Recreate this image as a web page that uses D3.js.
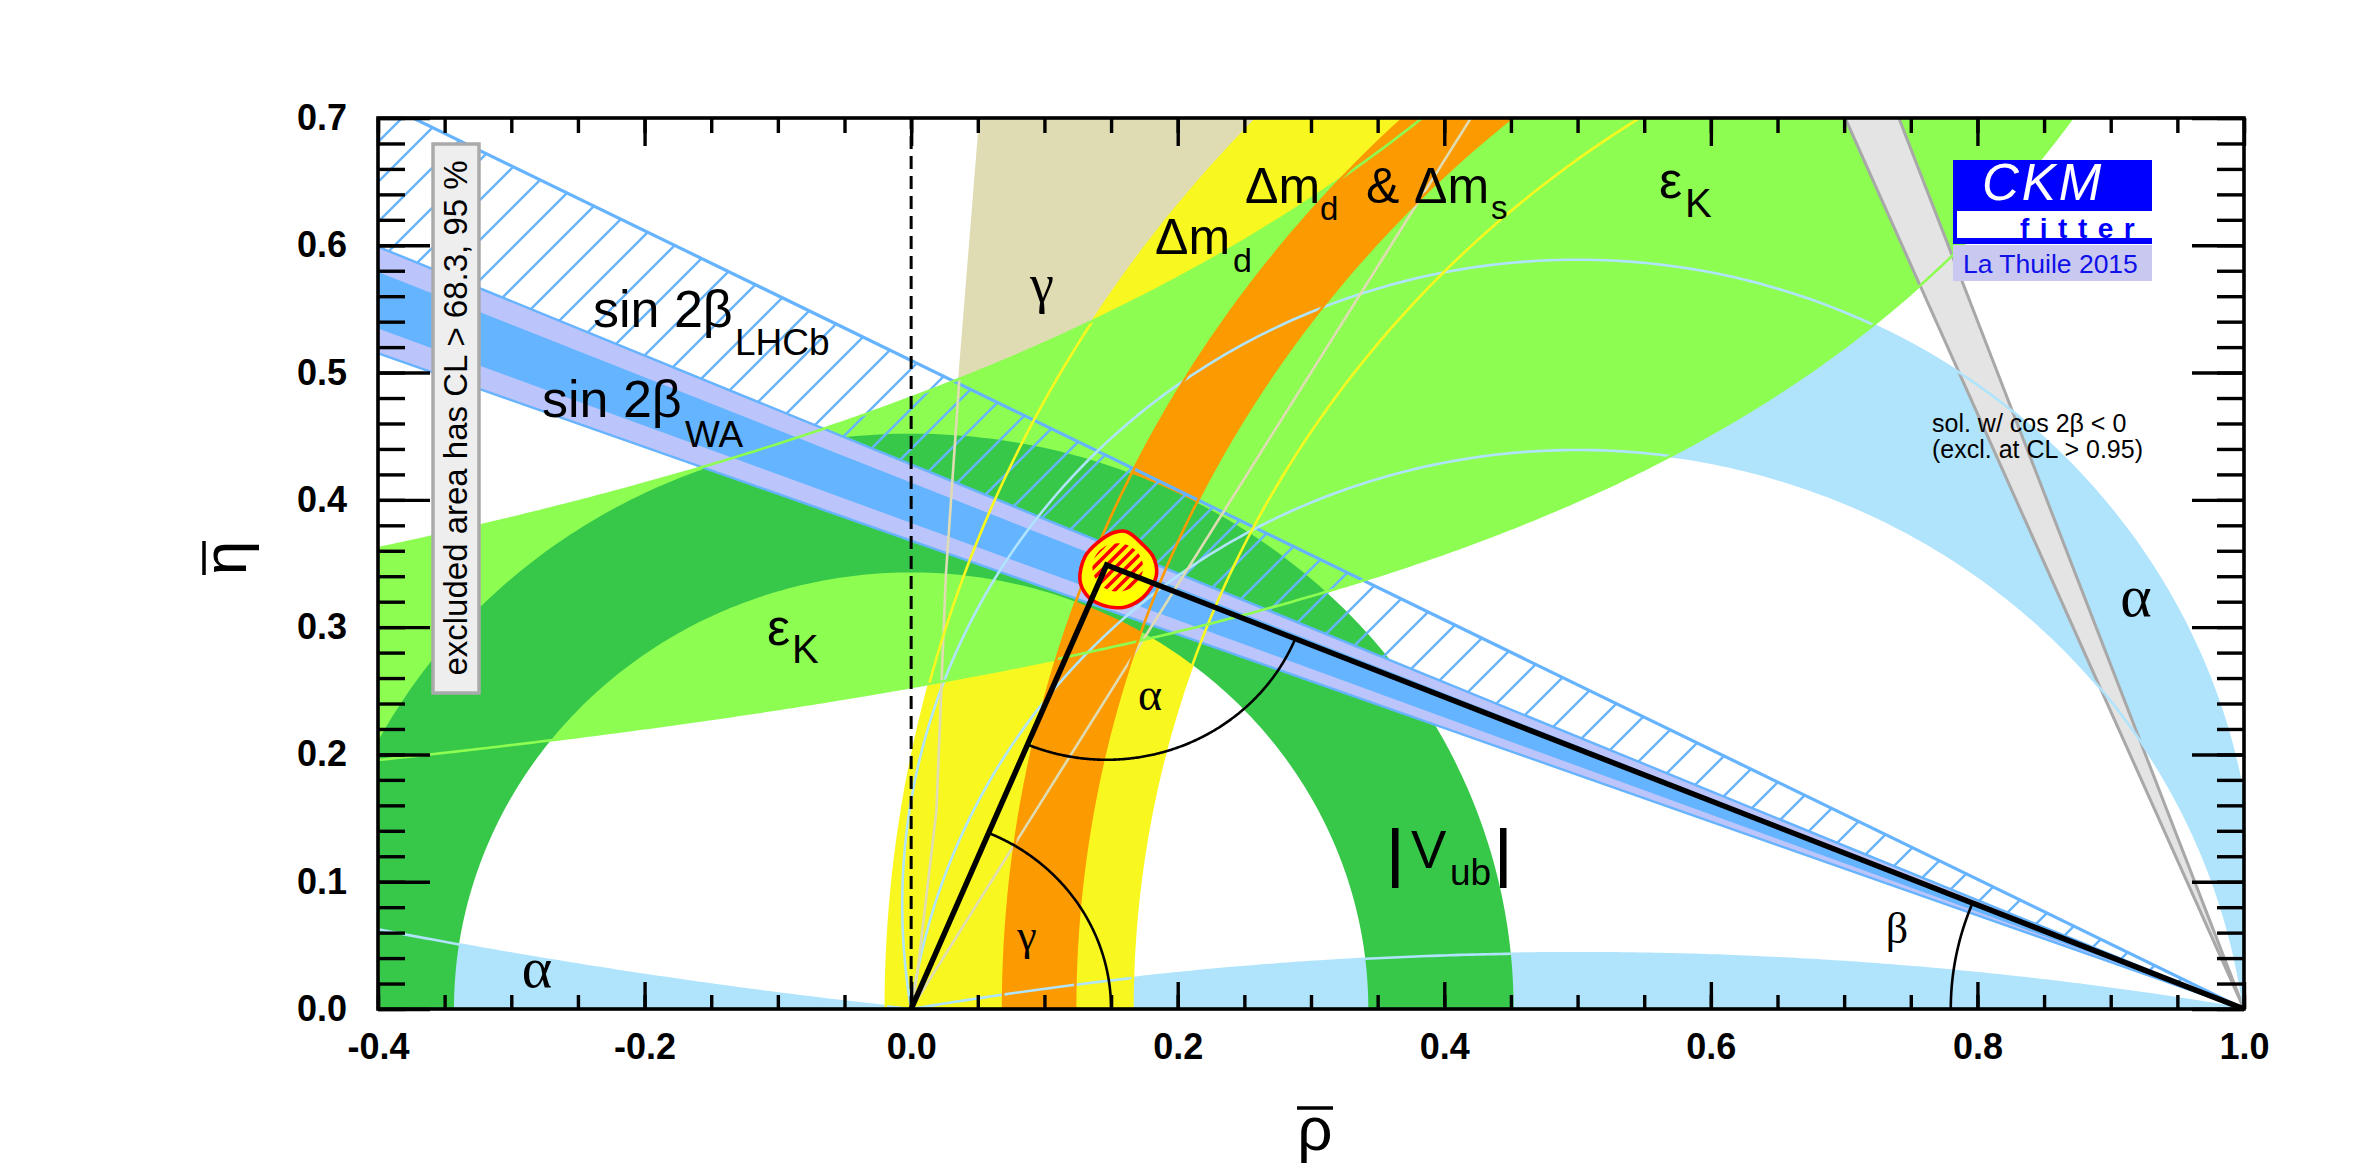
<!DOCTYPE html>
<html><head><meta charset="utf-8">
<script src="https://cdn.jsdelivr.net/npm/d3@7"></script>
<style>body{margin:0;background:#fff}svg{display:block}</style>
</head><body><svg id="c" width="2363" height="1175"></svg>
<script>
// ---------------- data ----------------
const rhoTicks = [-0.4, -0.2, 0.0, 0.2, 0.4, 0.6, 0.8, 1.0];
const etaTicks = [0.0, 0.1, 0.2, 0.3, 0.4, 0.5, 0.6, 0.7];
// |Vub| : annulus centred on (0,0)
const vubRadii = [0.343, 0.452];
// Δm_d : annulus centred on (1,0)
const dmdRadii = [0.834, 1.019];
// Δm_d & Δm_s : annulus
const dmsCentre = [1.035, 0.0];
const dmsRadii = [0.912, 0.966];
// ε_K hyperbolae η = k / (ρ0 − ρ)  ->  [k, ρ0]
const epsKLower = [0.345, 1.364];
const epsKUpper = [0.587, 1.222];
// sin 2β bands: β (deg) of lines through (1,0)
const sin2bWA95 = [20.2, 23.16];
const sin2bWA68 = [20.9, 22.47];
const sin2bLHCb = [20.2, 27.0];
// cos 2β < 0 solution wedge (deg)
const cos2bNeg = [66.85, 69.7];
// α : circles through (0,0),(1,0) with centre (0.5, c)
const alphaOuterC = 0.082;
const alphaInnerC = -0.065;
const alphaLowC = -2.83;   // sliver 0<ρ<1
const alphaLeftC = 4.5;    // sliver ρ<0
// γ wedge edges (points)
const gammaLeft = [[0, 0], [0.004, 0.023], [0.019, 0.156], [0.026, 0.34], [0.036, 0.492], [0.052, 0.7], [0.054, 0.73]];
const gammaRight = [[0, 0], [0.438, 0.73]];
// global fit
const apex = [0.1466, 0.3488];
const fitOutline = [[0.1266, 0.337], [0.1304, 0.3553], [0.1392, 0.3658], [0.1516, 0.3742], [0.1617, 0.375], [0.1741, 0.3645],
  [0.1816, 0.3553], [0.1842, 0.3423], [0.1804, 0.3318], [0.1716, 0.3213], [0.1591, 0.3155], [0.1416, 0.3181], [0.1317, 0.3252]];
const fitCore = [0.155, 0.347, 0.019, 0.019];
// angle arcs radii
const gammaArcR = 0.15, alphaArcR = 0.153, betaArcR = 0.22;

// ---------------- setup ----------------
const svg = d3.select('#c');
const x = d3.scaleLinear([-0.4, 1.0], [378, 2244]);
const y = d3.scaleLinear([0, 0.7], [1009, 118]);
const line = d3.line().x(d => x(d[0])).y(d => y(d[1]));
const SANS = "'Liberation Sans', Arial, Helvetica, sans-serif";
const SERIF = "'Liberation Serif', 'Times New Roman', serif";

const C = {
  alpha: '#b0e4fc', gamma: '#dfdcb4', dmd: '#f8f820', eps: '#8dfd52', dms: '#fc9a02',
  vub: '#37c84a', wa95: '#bcc4fc', wa68: '#64b4ff', hatch: '#66b3ff', grey: '#e4e4e4', greyEdge: '#a8a8a8'
};

const defs = svg.append('defs');
defs.append('clipPath').attr('id', 'plot').append('rect')
  .attr('x', x(-0.4)).attr('y', y(0.7)).attr('width', x(1.0) - x(-0.4)).attr('height', y(0) - y(0.7));
const pat = defs.append('pattern').attr('id', 'hatch').attr('patternUnits', 'userSpaceOnUse')
  .attr('width', 40).attr('height', 40);
pat.append('path').attr('d', 'M-5,5 L5,-5 M0,40 L40,0 M35,45 L45,35')
  .attr('stroke', C.hatch).attr('stroke-width', 2.4);
const rpat = defs.append('pattern').attr('id', 'rhatch').attr('patternUnits', 'userSpaceOnUse')
  .attr('width', 11).attr('height', 11);
rpat.append('path').attr('d', 'M-3,3 L3,-3 M0,11 L11,0 M8,14 L14,8')
  .attr('stroke', '#ff0000').attr('stroke-width', 3.6);
const core = fitCore;
defs.append('clipPath').attr('id', 'core').append('ellipse')
  .attr('cx', x(core[0])).attr('cy', y(core[1]))
  .attr('rx', x(core[0] + core[2]) - x(core[0])).attr('ry', y(core[1]) - y(core[1] + core[3]));

const g = svg.append('g').attr('clip-path', 'url(#plot)');

// helpers
const arcPts = (cx, cy, r, a0, a1, n = 240) =>
  d3.range(n + 1).map(i => { const a = a0 + (a1 - a0) * i / n; return [cx + r * Math.cos(a), cy + r * Math.sin(a)]; });
const circ = (c) => { const r = Math.sqrt(0.25 + c * c); return { cx: 0.5, cy: c, r }; };
const upperArc = (c) => { // arc from (1,0) over the top to (0,0)
  const k = circ(c);
  const a1 = Math.atan2(-c, 0.5), a0 = Math.atan2(-c, -0.5);
  return arcPts(k.cx, k.cy, k.r, a1, a0 < a1 ? a0 + 2 * Math.PI : a0);
};
const hyper = (p, r0, r1) => d3.range(r0, r1 + 1e-9, 0.004).map(r => [r, p[0] / (p[1] - r)]);
const rhoAtEta = (p, e) => p[1] - p[0] / e;
const ray = (deg) => { const t = Math.tan(deg * Math.PI / 180); return [[1, 0], [-0.5, 1.5 * t]]; };
const band = (b) => { const a = ray(b[0]), c = ray(b[1]); return [a[0], c[1], a[1]]; };
const fill = (pts, col) => g.append('path').attr('d', line(pts) + 'Z').attr('fill', col).attr('stroke', 'none');
const stroke = (pts, col, w, parent) => (parent || g).append('path').attr('d', line(pts)).attr('fill', 'none')
  .attr('stroke', col).attr('stroke-width', w).attr('stroke-linejoin', 'round');

// ---------------- α ----------------
const aOuter = upperArc(alphaOuterC), aInner = upperArc(alphaInnerC);
fill(aOuter.concat(aInner.slice().reverse()), C.alpha);
const aLow = upperArc(alphaLowC);
fill(aLow, C.alpha);
const lc = circ(alphaLeftC);
const aLeft = d3.range(0, -0.46, -0.005).map(r => [r, lc.cy - Math.sqrt(lc.r * lc.r - (r - 0.5) ** 2)]);
fill(aLeft.concat([[-0.46, 0], [0, 0]]), C.alpha);

// ---------------- γ ----------------
fill(gammaLeft.concat(gammaRight.slice().reverse()), C.gamma);

// ---------------- Δm_d ----------------
fill(arcPts(1, 0, dmdRadii[1], 0, Math.PI).concat(arcPts(1, 0, dmdRadii[0], Math.PI, 0)), C.dmd);

// ---------------- ε_K ----------------
const eLow = hyper(epsKLower, -0.45, rhoAtEta(epsKLower, 0.75));
const eUp = hyper(epsKUpper, -0.45, rhoAtEta(epsKUpper, 0.75));
fill(eLow.concat(eUp.slice().reverse()), C.eps);

// ---------------- Δm_d & Δm_s ----------------
fill(arcPts(dmsCentre[0], 0, dmsRadii[1], 0, Math.PI).concat(arcPts(dmsCentre[0], 0, dmsRadii[0], Math.PI, 0)), C.dms);

// ---------------- |Vub| ----------------
fill(arcPts(0, 0, vubRadii[1], 0, Math.PI).concat(arcPts(0, 0, vubRadii[0], Math.PI, 0)), C.vub);

// ---------------- sin2β LHCb (hatched) ----------------
g.append('path').attr('d', line(band(sin2bLHCb)) + 'Z').attr('fill', 'url(#hatch)');
// ---------------- sin2β WA ----------------
fill(band(sin2bWA95), C.wa95);
fill(band(sin2bWA68), C.wa68);
[sin2bWA95[0], sin2bWA95[1], sin2bLHCb[1]].forEach((b, i) => stroke(ray(b), C.hatch, i === 2 ? 3.2 : 2.4));

// ---------------- cos2β<0 wedge ----------------
const wedge = band(cos2bNeg);
fill(wedge, C.grey);
cos2bNeg.forEach(b => stroke(ray(b), C.greyEdge, 3));

// ---------------- contour lines ----------------
const lw = 2.6;
stroke(aOuter, C.alpha, lw); stroke(aInner, C.alpha, lw); stroke(aLow, C.alpha, lw); stroke(aLeft, C.alpha, lw);
stroke(gammaLeft, C.gamma, lw); stroke(gammaRight, C.gamma, lw);
dmdRadii.forEach(r => stroke(arcPts(1, 0, r, 0, Math.PI), C.dmd, lw));
stroke(eLow, C.eps, lw); stroke(eUp, C.eps, lw);
dmsRadii.forEach(r => stroke(arcPts(dmsCentre[0], 0, r, 0, Math.PI), C.dms, lw));

// ---------------- fit region ----------------
const closedCurve = d3.line().x(d => x(d[0])).y(d => y(d[1])).curve(d3.curveCatmullRomClosed);
g.append('path').attr('d', closedCurve(fitOutline)).attr('fill', '#ffff00').attr('stroke', 'none');
g.append('rect').attr('clip-path', 'url(#core)').attr('x', 1000).attr('y', 480).attr('width', 250).attr('height', 200)
  .attr('fill', 'url(#rhatch)');
g.append('path').attr('d', closedCurve(fitOutline)).attr('fill', 'none').attr('stroke', '#ff0000').attr('stroke-width', 3.6);

// ---------------- triangle & angles ----------------
stroke([[0, 0], apex, [1, 0]], '#000', 5.5).attr('stroke-linejoin', 'miter');
const angApex = Math.atan2(apex[1], apex[0]);
stroke(arcPts(0, 0, gammaArcR, 0, angApex), '#000', 2.6);
const toO = Math.atan2(-apex[1], -apex[0]), toOne = Math.atan2(-apex[1], 1 - apex[0]);
stroke(arcPts(apex[0], apex[1], alphaArcR, toO, toOne), '#000', 2.6);
const beta = Math.atan2(apex[1], 1 - apex[0]);
stroke(arcPts(1, 0, betaArcR, Math.PI, Math.PI - beta), '#000', 2.6);

// dashed ρ = 0
svg.append('line').attr('x1', x(0)).attr('x2', x(0)).attr('y1', y(0)).attr('y2', y(0.7))
  .attr('stroke', '#000').attr('stroke-width', 3).attr('stroke-dasharray', '13,7');

// ---------------- axes ----------------
const fmt = d => d.toFixed(1);
function styleAxis(sel) {
  sel.select('.domain').remove();
  sel.selectAll('line').attr('stroke', '#000').attr('stroke-width', 3.4);
  sel.selectAll('text').attr('font-family', SANS).attr('font-weight', 'bold').attr('font-size', 36).attr('fill', '#000');
}
const minorX = x.ticks(28), minorY = y.ticks(35);
svg.append('g').attr('transform', `translate(0,${y(0)})`)
  .call(d3.axisBottom(x).tickValues(rhoTicks).tickSize(-27).tickPadding(24).tickFormat(fmt)).call(styleAxis);
svg.append('g').attr('transform', `translate(0,${y(0)})`)
  .call(d3.axisBottom(x).tickValues(minorX).tickSize(-14).tickFormat('')).call(styleAxis);
svg.append('g').attr('transform', `translate(0,${y(0.7)})`)
  .call(d3.axisTop(x).tickValues(rhoTicks).tickSize(-28).tickFormat('')).call(styleAxis);
svg.append('g').attr('transform', `translate(0,${y(0.7)})`)
  .call(d3.axisTop(x).tickValues(minorX).tickSize(-15).tickFormat('')).call(styleAxis);
svg.append('g').attr('transform', `translate(${x(-0.4)},0)`)
  .call(d3.axisLeft(y).tickValues(etaTicks).tickSize(-52).tickPadding(31).tickFormat(fmt)).call(styleAxis);
svg.append('g').attr('transform', `translate(${x(-0.4)},0)`)
  .call(d3.axisLeft(y).tickValues(minorY).tickSize(-27).tickFormat('')).call(styleAxis);
svg.append('g').attr('transform', `translate(${x(1.0)},0)`)
  .call(d3.axisRight(y).tickValues(etaTicks).tickSize(-52).tickFormat('')).call(styleAxis);
svg.append('g').attr('transform', `translate(${x(1.0)},0)`)
  .call(d3.axisRight(y).tickValues(minorY).tickSize(-27).tickFormat('')).call(styleAxis);
svg.append('rect').attr('x', x(-0.4)).attr('y', y(0.7)).attr('width', x(1) - x(-0.4)).attr('height', y(0) - y(0.7))
  .attr('fill', 'none').attr('stroke', '#000').attr('stroke-width', 3.6);

// ---------------- text ----------------
function txt(s, px, py, size, opts = {}) {
  const t = svg.append('text').attr('x', px).attr('y', py).attr('font-size', size)
    .attr('font-family', opts.font || SANS).attr('fill', opts.fill || '#000').text(s);
  if (opts.weight) t.attr('font-weight', opts.weight);
  if (opts.style) t.attr('font-style', opts.style);
  if (opts.anchor) t.attr('text-anchor', opts.anchor);
  if (opts.ls) t.attr('letter-spacing', opts.ls);
  return t;
}
// axis titles
txt('ρ', 1315, 1150, 62, { anchor: 'middle' });
svg.append('line').attr('x1', 1297).attr('x2', 1333).attr('y1', 1108).attr('y2', 1108).attr('stroke', '#000').attr('stroke-width', 3.5);
svg.append('g').attr('transform', 'translate(246,558) rotate(-90)').call(s => {
  s.append('text').attr('text-anchor', 'middle').attr('font-size', 62).attr('font-family', SANS).text('η');
  s.append('line').attr('x1', -17).attr('x2', 17).attr('y1', -42).attr('y2', -42).attr('stroke', '#000').attr('stroke-width', 3.5);
});

// constraint labels
txt('sin 2β', 593, 327, 52); txt('LHCb', 735, 355, 37);
txt('sin 2β', 542, 417, 52); txt('WA', 685, 447, 37);
txt('Δm', 1155, 254, 50); txt('d', 1233, 272, 34);
txt('Δm', 1245, 203, 50); txt('d', 1320, 220, 33); txt('&', 1366, 203, 50);
txt('Δm', 1414, 203, 50); txt('s', 1491, 219, 33);
txt('ε', 1659, 198, 52); txt('K', 1685, 217, 40);
txt('ε', 767, 645, 52); txt('K', 792, 663, 40);
svg.append('rect').attr('x', 1392).attr('y', 828).attr('width', 6.5).attr('height', 60);
txt('V', 1411, 868, 53); txt('ub', 1450, 885, 37);
svg.append('rect').attr('x', 1500).attr('y', 828).attr('width', 6.5).attr('height', 60);
txt('γ', 1042, 302, 54, { font: SERIF, anchor: 'middle' });
txt('γ', 1027, 950, 44, { font: SERIF, anchor: 'middle' });
txt('α', 1150, 710, 46, { font: SERIF, anchor: 'middle' });
txt('α', 2136, 616, 60, { font: SERIF, anchor: 'middle' });
txt('α', 537, 987, 58, { font: SERIF, anchor: 'middle' });
txt('β', 1897, 943, 44, { font: SERIF, anchor: 'middle' });
txt('sol. w/ cos 2β < 0', 1932, 432, 25);
txt('(excl. at CL > 0.95)', 1932, 458, 25);

// excluded-area box
svg.append('rect').attr('x', 433).attr('y', 144).attr('width', 46).attr('height', 549)
  .attr('fill', '#eeeeee').attr('stroke', '#aaaaaa').attr('stroke-width', 3.5);
svg.append('text').attr('transform', 'translate(467,418) rotate(-90)').attr('text-anchor', 'middle')
  .attr('font-size', 33).attr('font-family', SANS).text('excluded area has CL > 68.3, 95 %');

// CKMfitter logo
svg.append('rect').attr('x', 1953).attr('y', 160).attr('width', 199).attr('height', 84).attr('fill', '#0000ff');
svg.append('rect').attr('x', 1957).attr('y', 211).attr('width', 195).attr('height', 27).attr('fill', '#ffffff');
txt('CKM', 1982, 200, 51, { fill: '#ffffff', style: 'italic', ls: 3 });
txt('fitter', 2020, 238, 28, { fill: '#0000ff', weight: 'bold', ls: 10.5 });
svg.append('rect').attr('x', 1953).attr('y', 245).attr('width', 199).attr('height', 36).attr('fill', '#c8c8f0');
txt('La Thuile 2015', 1963, 273, 26.5, { fill: '#1010e8' });
</script></body></html>
